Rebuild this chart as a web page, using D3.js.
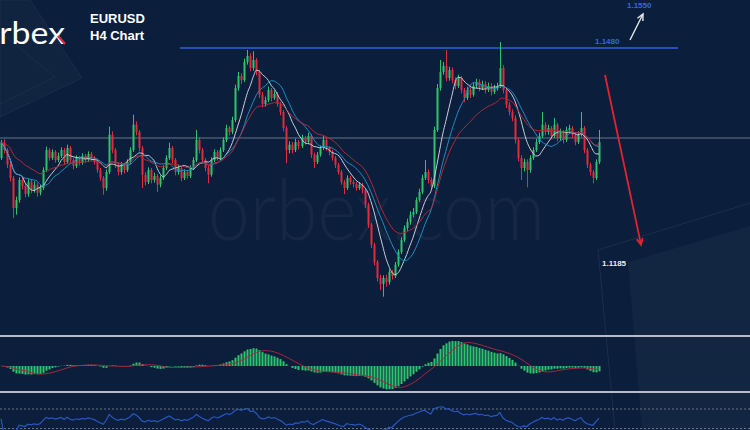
<!DOCTYPE html>
<html>
<head>
<meta charset="utf-8">
<script src="https://cdn.jsdelivr.net/npm/d3@7"></script>
<style>
html, body { margin: 0; padding: 0; background: #0b1e3b; overflow: hidden; }
svg { display: block; }
</style>
</head>
<body>
<svg id="chart" width="750" height="430"></svg>
<script>
// EURUSD H4 candles
var candleOpen = [
1.1315,1.1338,1.1327,1.1305,1.1285,1.1240,1.1252,1.1282,1.1273,1.1261,
1.1279,1.1267,1.1275,1.1263,1.1270,1.1297,1.1327,1.1315,1.1324,1.1312,
1.1318,1.1327,1.1309,1.1330,1.1312,1.1303,1.1315,1.1308,1.1318,1.1312,
1.1321,1.1315,1.1309,1.1297,1.1285,1.1270,1.1294,1.1350,1.1327,1.1305,
1.1294,1.1305,1.1297,1.1309,1.1327,1.1365,1.1354,1.1330,1.1290,1.1279,
1.1297,1.1282,1.1288,1.1275,1.1285,1.1300,1.1315,1.1330,1.1312,1.1294,
1.1300,1.1285,1.1294,1.1288,1.1300,1.1312,1.1342,1.1327,1.1312,1.1300,
1.1290,1.1312,1.1324,1.1315,1.1327,1.1342,1.1360,1.1354,1.1372,1.1420,
1.1438,1.1432,1.1459,1.1468,1.1450,1.1462,1.1444,1.1410,1.1396,1.1402,
1.1417,1.1405,1.1411,1.1396,1.1384,1.1360,1.1327,1.1335,1.1327,1.1339,
1.1333,1.1345,1.1339,1.1348,1.1320,1.1309,1.1320,1.1330,1.1342,1.1330,
1.1324,1.1315,1.1305,1.1294,1.1279,1.1270,1.1285,1.1279,1.1276,1.1270,
1.1275,1.1267,1.1245,1.1215,1.1185,1.1159,1.1135,1.1126,1.1135,1.1129,
1.1144,1.1138,1.1155,1.1174,1.1192,1.1210,1.1219,1.1230,1.1234,1.1252,
1.1264,1.1285,1.1294,1.1282,1.1273,1.1357,1.1420,1.1444,1.1453,1.1435,
1.1447,1.1432,1.1423,1.1435,1.1417,1.1405,1.1417,1.1410,1.1423,1.1429,
1.1420,1.1426,1.1417,1.1423,1.1414,1.1420,1.1423,1.1450,1.1417,1.1395,
1.1384,1.1375,1.1342,1.1315,1.1300,1.1309,1.1297,1.1315,1.1327,1.1339,
1.1348,1.1365,1.1354,1.1360,1.1348,1.1365,1.1345,1.1354,1.1342,1.1357,
1.1360,1.1350,1.1339,1.1350,1.1360,1.1327,1.1305,1.1294,1.1285,1.1309];

var candleHigh = [
1.1342,1.1343,1.1330,1.1309,1.1288,1.1257,1.1286,1.1287,1.1276,1.1283,
1.1282,1.1280,1.1278,1.1275,1.1301,1.1332,1.1330,1.1328,1.1327,1.1323,
1.1331,1.1330,1.1335,1.1333,1.1315,1.1319,1.1318,1.1322,1.1321,1.1325,
1.1324,1.1318,1.1312,1.1300,1.1288,1.1298,1.1362,1.1355,1.1330,1.1308,
1.1309,1.1308,1.1313,1.1331,1.1380,1.1370,1.1357,1.1333,1.1294,1.1301,
1.1300,1.1293,1.1291,1.1289,1.1304,1.1319,1.1338,1.1333,1.1315,1.1305,
1.1303,1.1298,1.1297,1.1304,1.1316,1.1357,1.1346,1.1330,1.1315,1.1303,
1.1316,1.1328,1.1327,1.1331,1.1346,1.1365,1.1363,1.1377,1.1425,1.1444,
1.1442,1.1464,1.1477,1.1472,1.1475,1.1465,1.1447,1.1414,1.1407,1.1422,
1.1420,1.1416,1.1414,1.1399,1.1387,1.1363,1.1340,1.1339,1.1344,1.1342,
1.1350,1.1348,1.1353,1.1351,1.1323,1.1324,1.1334,1.1348,1.1345,1.1333,
1.1327,1.1318,1.1308,1.1297,1.1282,1.1289,1.1288,1.1282,1.1279,1.1279,
1.1278,1.1270,1.1248,1.1218,1.1188,1.1162,1.1140,1.1139,1.1140,1.1148,
1.1147,1.1159,1.1178,1.1196,1.1214,1.1224,1.1235,1.1240,1.1256,1.1269,
1.1290,1.1312,1.1298,1.1286,1.1362,1.1426,1.1462,1.1459,1.1477,1.1452,
1.1451,1.1436,1.1440,1.1438,1.1420,1.1422,1.1421,1.1428,1.1434,1.1433,
1.1431,1.1430,1.1428,1.1427,1.1425,1.1428,1.1489,1.1454,1.1420,1.1399,
1.1388,1.1379,1.1345,1.1319,1.1314,1.1313,1.1319,1.1331,1.1344,1.1353,
1.1384,1.1369,1.1365,1.1363,1.1375,1.1368,1.1359,1.1357,1.1362,1.1365,
1.1363,1.1353,1.1355,1.1384,1.1363,1.1330,1.1308,1.1297,1.1313,1.1357];

var candleLow = [
1.1312,1.1322,1.1300,1.1280,1.1225,1.1230,1.1248,1.1268,1.1256,1.1257,
1.1262,1.1263,1.1257,1.1259,1.1267,1.1294,1.1311,1.1312,1.1308,1.1309,
1.1315,1.1305,1.1306,1.1308,1.1298,1.1300,1.1304,1.1305,1.1308,1.1309,
1.1311,1.1305,1.1293,1.1281,1.1260,1.1266,1.1291,1.1322,1.1300,1.1289,
1.1290,1.1292,1.1294,1.1306,1.1324,1.1349,1.1325,1.1270,1.1274,1.1276,
1.1277,1.1278,1.1264,1.1271,1.1282,1.1297,1.1312,1.1307,1.1289,1.1290,
1.1280,1.1282,1.1284,1.1285,1.1297,1.1309,1.1322,1.1308,1.1295,1.1277,
1.1287,1.1309,1.1311,1.1312,1.1324,1.1339,1.1349,1.1351,1.1369,1.1416,
1.1426,1.1429,1.1455,1.1445,1.1446,1.1439,1.1405,1.1391,1.1392,1.1399,
1.1400,1.1402,1.1392,1.1379,1.1355,1.1307,1.1322,1.1322,1.1324,1.1328,
1.1330,1.1335,1.1336,1.1315,1.1300,1.1306,1.1317,1.1327,1.1326,1.1319,
1.1311,1.1300,1.1290,1.1275,1.1261,1.1267,1.1275,1.1271,1.1266,1.1267,
1.1262,1.1240,1.1210,1.1180,1.1154,1.1130,1.1117,1.1107,1.1122,1.1125,
1.1133,1.1135,1.1152,1.1171,1.1189,1.1206,1.1215,1.1226,1.1231,1.1249,
1.1261,1.1282,1.1277,1.1268,1.1270,1.1354,1.1416,1.1440,1.1430,1.1431,
1.1427,1.1418,1.1420,1.1412,1.1399,1.1402,1.1405,1.1407,1.1420,1.1415,
1.1417,1.1412,1.1414,1.1409,1.1411,1.1416,1.1420,1.1412,1.1390,1.1379,
1.1370,1.1337,1.1310,1.1282,1.1295,1.1271,1.1293,1.1312,1.1324,1.1336,
1.1345,1.1349,1.1350,1.1343,1.1345,1.1340,1.1341,1.1337,1.1339,1.1353,
1.1345,1.1334,1.1336,1.1347,1.1322,1.1300,1.1289,1.1277,1.1282,1.1306];

var candleClose = [
1.1338,1.1327,1.1305,1.1285,1.1240,1.1252,1.1282,1.1273,1.1261,1.1279,
1.1267,1.1275,1.1263,1.1270,1.1297,1.1327,1.1315,1.1324,1.1312,1.1318,
1.1327,1.1309,1.1330,1.1312,1.1303,1.1315,1.1308,1.1318,1.1312,1.1321,
1.1315,1.1309,1.1297,1.1285,1.1270,1.1294,1.1350,1.1327,1.1305,1.1294,
1.1305,1.1297,1.1309,1.1327,1.1365,1.1354,1.1330,1.1290,1.1279,1.1297,
1.1282,1.1288,1.1275,1.1285,1.1300,1.1315,1.1330,1.1312,1.1294,1.1300,
1.1285,1.1294,1.1288,1.1300,1.1312,1.1342,1.1327,1.1312,1.1300,1.1290,
1.1312,1.1324,1.1315,1.1327,1.1342,1.1360,1.1354,1.1372,1.1420,1.1438,
1.1432,1.1459,1.1468,1.1450,1.1462,1.1444,1.1410,1.1396,1.1402,1.1417,
1.1405,1.1411,1.1396,1.1384,1.1360,1.1327,1.1335,1.1327,1.1339,1.1333,
1.1345,1.1339,1.1348,1.1320,1.1309,1.1320,1.1330,1.1342,1.1330,1.1324,
1.1315,1.1305,1.1294,1.1279,1.1270,1.1285,1.1279,1.1276,1.1270,1.1275,
1.1267,1.1245,1.1215,1.1185,1.1159,1.1135,1.1126,1.1135,1.1129,1.1144,
1.1138,1.1155,1.1174,1.1192,1.1210,1.1219,1.1230,1.1234,1.1252,1.1264,
1.1285,1.1294,1.1282,1.1273,1.1357,1.1420,1.1444,1.1453,1.1435,1.1447,
1.1432,1.1423,1.1435,1.1417,1.1405,1.1417,1.1410,1.1423,1.1429,1.1420,
1.1426,1.1417,1.1423,1.1414,1.1420,1.1423,1.1450,1.1417,1.1395,1.1384,
1.1375,1.1342,1.1315,1.1300,1.1309,1.1297,1.1315,1.1327,1.1339,1.1348,
1.1365,1.1354,1.1360,1.1348,1.1365,1.1345,1.1354,1.1342,1.1357,1.1360,
1.1350,1.1339,1.1350,1.1360,1.1327,1.1305,1.1294,1.1285,1.1309,1.1339];

// levels marked on the chart
var resistance = 1.1480;
var support = 1.1345;
var targetUp = 1.1550;
var targetDown = 1.1185;
// moving averages: [period, kind, colour]
var maSpecs = [[8, "sma", "#c9ced8"], [13, "sma", "#1e8cc4"], [21, "ema", "#b02a38"]];

var svg = d3.select("#chart"),
width = +svg.attr("width"),
height = +svg.attr("height");

svg.append("rect").attr("width", width).attr("height", height).attr("fill", "#0b1e3b");

// background decoration
var deco = svg.append("g");
deco.append("path").attr("d", "M30,0 L82,78 L0,117 L0,0 Z")
  .attr("fill", "rgba(255,255,255,0.025)").attr("stroke", "rgba(255,255,255,0.06)");
deco.append("path").attr("d", "M0,32 L55,77 L0,104")
  .attr("fill", "none").attr("stroke", "rgba(255,255,255,0.05)");
deco.append("path").attr("d", "M628,262 L750,226 L750,430 L642,430 Z")
  .attr("fill", "rgba(255,255,255,0.03)");
deco.append("path").attr("d", "M750,203 L598,250 L615,430")
  .attr("fill", "none").attr("stroke", "rgba(255,255,255,0.07)");

// watermark
svg.append("text")
  .attr("x", 208).attr("y", 240)
  .attr("textLength", 337).attr("lengthAdjust", "spacingAndGlyphs")
  .style("font-family", "Lato, 'Open Sans', sans-serif")
  .style("font-weight", 300)
  .style("font-size", "84px")
  .attr("fill", "rgba(255,255,255,0.045)")
  .text("orbex.com");

// logo + title
svg.append("text")
  .attr("x", -20).attr("y", 44)
  .attr("textLength", 85).attr("lengthAdjust", "spacingAndGlyphs")
  .style("font-family", "Lato, 'Open Sans', sans-serif")
  .style("font-size", "31px")
  .attr("fill", "#ffffff")
  .text("orbex");
svg.append("line").attr("x1", 58).attr("y1", 36).attr("x2", 65).attr("y2", 44)
  .attr("stroke", "#e0283a").attr("stroke-width", 2.4);

svg.append("text").attr("x", 90).attr("y", 23)
  .style("font-family", "'Liberation Sans', Arial, sans-serif").style("font-weight", "bold").style("font-size", "13px")
  .attr("fill", "#ffffff").text("EURUSD");
svg.append("text").attr("x", 90).attr("y", 40)
  .style("font-family", "'Liberation Sans', Arial, sans-serif").style("font-weight", "bold").style("font-size", "13px")
  .attr("fill", "#ffffff").text("H4 Chart");

// scales
var idx = d3.range(candleClose.length);
var x = d3.scaleBand().domain(idx).range([0, 600]).paddingInner(0.33).paddingOuter(0);
var xc = function(i) { return x(i) + x.bandwidth() / 2; };
var y = d3.scaleLinear().domain([1.1480, 1.1100]).range([48, 301.33]);

// support line
svg.append("line")
  .attr("x1", 0).attr("x2", width)
  .attr("y1", y(support)).attr("y2", y(support))
  .attr("stroke", "#8a92a4").attr("stroke-opacity", 0.75).attr("stroke-width", 1);

// resistance line
svg.append("line")
  .attr("x1", 180).attr("x2", 678)
  .attr("y1", y(resistance)).attr("y2", y(resistance))
  .attr("stroke", "#2f63e0").attr("stroke-width", 1.6);

// candles
var candles = svg.append("g").selectAll("g")
  .data(idx).enter().append("g");

candles.append("rect")
  .attr("x", function(i) { return Math.round(xc(i)) ; })
  .attr("width", 1)
  .attr("y", function(i) { return y(candleHigh[i]); })
  .attr("height", function(i) { return y(candleLow[i]) - y(candleHigh[i]); })
  .attr("fill", function(i) { return candleClose[i] >= candleOpen[i] ? "#2fc46c" : "#e42b3d"; });

candles.append("rect")
  .attr("x", function(i) { return Math.round(xc(i)) - 0.5; })
  .attr("width", 2)
  .attr("y", function(i) { return y(Math.max(candleOpen[i], candleClose[i])); })
  .attr("height", function(i) { return Math.max(1, Math.abs(y(candleOpen[i]) - y(candleClose[i]))); })
  .attr("fill", function(i) { return candleClose[i] >= candleOpen[i] ? "#2fc46c" : "#e42b3d"; });

// moving averages
function sma(arr, n) {
  return arr.map(function(d, i) {
    return d3.mean(arr.slice(Math.max(0, i - n + 1), i + 1));
  });
}
function ema(arr, n) {
  var k = 2 / (n + 1), prev = arr[0];
  return arr.map(function(v, i) { prev = i ? v * k + prev * (1 - k) : v; return prev; });
}

maSpecs.forEach(function(s) {
  var ma = s[1] === "sma" ? sma(candleClose, s[0]) : ema(candleClose, s[0]);
  svg.append("path")
    .datum(idx)
    .attr("fill", "none")
    .attr("stroke", s[2])
    .attr("stroke-width", 1)
    .attr("d", d3.line().curve(d3.curveMonotoneX).x(xc).y(function(i) { return y(ma[i]); }));
});

// annotations
var lblFont = "'Liberation Sans', Arial, sans-serif";
svg.append("text").attr("x", 595).attr("y", y(resistance) - 4)
  .style("font-family", lblFont).style("font-weight", "bold").style("font-size", "8px")
  .attr("fill", "#3468de").text(resistance.toFixed(4));
svg.append("text").attr("x", 627).attr("y", y(targetUp) + 7)
  .style("font-family", lblFont).style("font-weight", "bold").style("font-size", "8px")
  .attr("fill", "#3468de").text(targetUp.toFixed(4));
svg.append("text").attr("x", 602).attr("y", y(targetDown) + 21)
  .style("font-family", lblFont).style("font-weight", "bold").style("font-size", "8px")
  .attr("fill", "#e8ecf2").text(targetDown.toFixed(4));

function arrow(x1, y1, x2, y2, color, w) {
  var a = Math.atan2(y2 - y1, x2 - x1), L = 7, s = 0.45;
  svg.append("line").attr("x1", x1).attr("y1", y1).attr("x2", x2).attr("y2", y2)
    .attr("stroke", color).attr("stroke-width", w);
  svg.append("path")
    .attr("d", "M" + (x2 - L * Math.cos(a - s)) + "," + (y2 - L * Math.sin(a - s)) +
      "L" + x2 + "," + y2 +
      "L" + (x2 - L * Math.cos(a + s)) + "," + (y2 - L * Math.sin(a + s)))
    .attr("fill", "none").attr("stroke", color).attr("stroke-width", w);
}
arrow(630, 40, 643, 14, "#e6e9ef", 1.4);
arrow(605, 75, 641, y(targetDown), "#e3232f", 1.8);

// MACD panel
var panelTop = 336, panelBottom = 392, zeroY = 366;
svg.append("line").attr("x1", 0).attr("x2", width).attr("y1", panelTop).attr("y2", panelTop)
  .attr("stroke", "#b7bcc8").attr("stroke-width", 2);
svg.append("line").attr("x1", 0).attr("x2", width).attr("y1", panelBottom).attr("y2", panelBottom)
  .attr("stroke", "#b7bcc8").attr("stroke-width", 2);

var e12 = ema(candleClose, 12), e26 = ema(candleClose, 26);
var macd = idx.map(function(i) { return e12[i] - e26[i]; });
var signal = sma(macd, 9);
var mMax = d3.max(macd, function(v) { return Math.abs(v); });
var my = d3.scaleLinear().domain([-mMax, mMax]).range([zeroY + 25, zeroY - 25]);

svg.append("g").selectAll("rect")
  .data(idx).enter().append("rect")
  .attr("x", function(i) { return Math.round(xc(i)) - 0.5; })
  .attr("width", 2)
  .attr("y", function(i) { return Math.min(my(macd[i]), my(0)); })
  .attr("height", function(i) { return Math.abs(my(macd[i]) - my(0)); })
  .attr("fill", "#30c46e");

svg.append("path").datum(idx)
  .attr("fill", "none").attr("stroke", "#a6283d").attr("stroke-width", 1)
  .attr("d", d3.line().x(xc).y(function(i) { return my(signal[i]); }));

// RSI panel
var rsiHi = 80, rsiLo = 20;
var ry = d3.scaleLinear().domain([rsiLo, rsiHi]).range([428.5, 409]);
[rsiHi, rsiLo].forEach(function(v) {
  svg.append("line").attr("x1", 0).attr("x2", width).attr("y1", ry(v)).attr("y2", ry(v))
    .attr("stroke", "#6c7588").attr("stroke-width", 1).attr("stroke-dasharray", "2,2");
});

var n = 10, gain = 0, loss = 0;
var rsi = idx.map(function(i) {
  if (i === 0) return 50;
  var ch = candleClose[i] - candleClose[i - 1];
  var g = Math.max(ch, 0), l = Math.max(-ch, 0);
  var m = Math.min(i, n);
  gain = (gain * (m - 1) + g) / m;
  loss = (loss * (m - 1) + l) / m;
  return loss === 0 ? 100 : 100 - 100 / (1 + gain / loss);
});

svg.append("path").datum(idx)
  .attr("fill", "none").attr("stroke", "#2a56c0").attr("stroke-width", 1.2)
  .attr("d", d3.line().x(xc).y(function(i) { return Math.max(398, ry(rsi[i])); }));
</script>
</body>
</html>
